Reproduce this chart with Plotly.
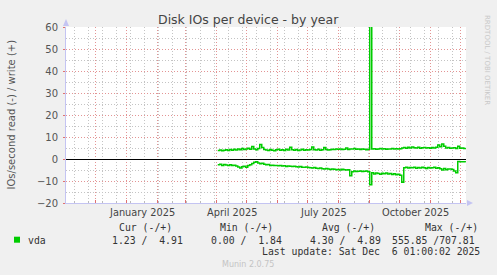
import pandas as pd
import plotly.graph_objects as go

# ---------------- data ----------------
title = "Disk IOs per device - by year"
y_title = "IOs/second read (-) / write (+)"
device = "vda"

write_vals = [3.9, 4.1, 3.7, 4.0, 4.2, 3.9, 4.3, 4.0, 4.4, 4.1, 4.6, 4.2, 4.8, 4.3, 4.5, 4.9, 4.4,
              5.7, 4.6, 4.2,
              4.8, 6.6, 5.2, 4.3,
              4.1, 3.9, 4.3, 4.0, 3.7, 4.2, 4.4, 4.0, 4.2, 3.9, 4.4, 4.1, 5.3,
              4.2, 4.0, 4.3, 3.9, 4.1, 4.4, 4.0, 4.2, 4.1, 4.3,
              5.4, 4.2, 4.1, 4.4, 4.0, 4.2, 5.2, 4.3, 4.1, 4.2, 4.4, 4.3, 4.5,
              4.4, 4.6, 4.3, 4.4, 5.0, 4.3, 4.6, 4.5, 4.8, 4.4, 4.6, 4.3, 4.5, 4.4, 4.2, 4.4,
              707.8,
              4.5, 4.7, 4.4, 4.6, 4.8, 4.5, 4.7, 4.4, 4.6, 4.5, 4.8, 4.6, 4.7, 4.5, 4.7,
              5.0, 5.2, 4.9, 5.3, 5.0, 5.4, 5.1, 5.0, 5.3, 4.9, 5.1, 5.2, 5.0, 5.1, 4.9, 5.2, 5.0, 5.3,
              6.4, 5.6, 6.8, 5.8, 5.0,
              5.2, 4.9, 5.0, 5.1, 4.8, 5.8, 4.9, 5.0, 4.8, 4.91]

read_vals = [-2.6, -2.4, -2.9, -2.5, -2.7, -2.9, -2.6, -3.0, -2.8, -3.2, -3.6, -4.1, -3.5, -3.3, -3.8, -3.0, -2.6,
             -2.0, -1.5, -1.3, -1.8, -2.2, -1.9, -2.4,
             -2.6, -2.5, -2.9, -2.8, -3.0, -2.9, -3.1, -3.0, -3.2, -3.1, -3.4, -3.2, -3.3,
             -3.4, -3.3, -3.5, -3.6, -3.4, -3.7, -3.8, -3.6, -3.9, -4.0,
             -4.1, -3.9, -4.2, -4.3, -4.1, -4.4, -4.5, -4.3, -4.6, -4.8, -4.5, -4.7, -4.9,
             -4.8, -5.0, -4.7, -4.9, -5.0, -4.9, -7.6, -5.8, -5.5, -5.7, -5.6, -5.4, -5.7, -5.6, -5.5, -5.8,
             -11.7,
             -6.3, -6.8, -6.4, -6.6, -6.9, -6.5, -6.7, -6.4, -6.8, -6.6, -7.0, -6.7, -7.2, -6.9, -7.4,
             -10.6,
             -4.0, -3.8, -4.1, -3.9, -4.0, -3.7, -4.2, -3.9, -4.1, -3.8, -4.0, -4.3, -3.9, -4.1, -4.0, -3.8,
             -4.2, -4.0, -4.4, -5.0, -4.3, -4.9, -4.5,
             -4.6, -4.8, -5.5, -6.2,
             -1.1, -1.2, -1.2, -1.2, -1.23]

dates = pd.date_range("2025-04-02", periods=len(write_vals), freq="2D")

x_range = ["2024-11-01 06:00", "2025-12-06 06:00"]
y_range = [-20, 60]

month_labels = ["January 2025", "April 2025", "July 2025", "October 2025"]
month_label_pos = ["2025-01-16 12:00", "2025-04-16", "2025-07-16 12:00", "2025-10-16 12:00"]

stat_headers = ["Cur (-/+)", "Min (-/+)", "Avg (-/+)", "Max (-/+)"]
stat_values = ["1.23 /  4.91", "0.00 /  1.84", "4.30 /  4.89", "555.85 /707.81"]
last_update = "Last update: Sat Dec  6 01:00:02 2025"
footer = "Munin 2.0.75"
side_text = "RRDTOOL / TOBI OETIKER"

# ---------------- layout helpers ----------------
W, H = 497, 275
L, R, T, B = 66, 31, 27, 72
PW, PH = W - L - R, H - T - B


def px(x):
    return (x - L) / PW


def py(y):
    return (H - B - y) / PH


GREEN = "#00CC00"
RED_GRID = "#E39494"
GRAY_GRID = "#C4C4C4"
AXIS = "#C4C4F2"
TXT = "#333333"
MONO = "DejaVu Sans Mono"
SANS = "DejaVu Sans"

fig = go.Figure()
fig.add_trace(go.Scatter(x=dates, y=write_vals, mode="lines", line=dict(color=GREEN, width=1.5, shape="hv"),
                         showlegend=False, hoverinfo="skip"))
fig.add_trace(go.Scatter(x=dates, y=read_vals, mode="lines", line=dict(color=GREEN, width=1.5, shape="hv"),
                         showlegend=False, hoverinfo="skip"))

fig.update_layout(
    width=W, height=H,
    margin=dict(l=L, r=R, t=T, b=B, pad=0),
    paper_bgcolor="#F0F0F0", plot_bgcolor="#FFFFFF",
    font=dict(family=SANS, size=10, color="#555555"),
    showlegend=False,
    xaxis=dict(type="date", range=x_range, dtick="M1", tick0="2024-11-01",
               showgrid=True, gridcolor=RED_GRID, griddash="1px,2px", gridwidth=1,
               ticks="inside", ticklen=3, tickcolor="#E07070", showticklabels=False,
               showline=True, linecolor=AXIS, linewidth=1, zeroline=False,
               minor=dict(dtick=14 * 86400000, tick0="2024-11-10", showgrid=True, gridcolor=GRAY_GRID,
                          griddash="1px,2px", ticks="inside", ticklen=2, tickcolor="#BBBBBB")),
    yaxis=dict(range=y_range, dtick=10, tick0=0, showgrid=True, gridcolor=RED_GRID, griddash="1px,2px",
               ticks="outside", ticklen=2, tickcolor="#E07070",
               tickfont=dict(family=SANS, size=10, color="#555555"), ticklabelstandoff=3,
               showline=True, linecolor=AXIS, linewidth=1,
               zeroline=True, zerolinecolor="#000000", zerolinewidth=1,
               minor=dict(dtick=5, showgrid=True, gridcolor=GRAY_GRID, griddash="1px,2px")),
)

# axis arrows
fig.add_shape(type="path", xref="paper", yref="paper", layer="above",
              path=f"M {px(473)} {py(203)} L {px(467)} {py(200)} L {px(467)} {py(206)} Z",
              fillcolor=AXIS, line=dict(color=AXIS, width=0))
fig.add_shape(type="path", xref="paper", yref="paper", layer="above",
              path=f"M {px(66)} {py(19)} L {px(63)} {py(26)} L {px(69)} {py(26)} Z",
              fillcolor=AXIS, line=dict(color=AXIS, width=0))

ann = []
ann.append(dict(text=title, x=px(248), y=py(19), xref="paper", yref="paper", showarrow=False,
                xanchor="center", yanchor="middle", font=dict(family=SANS, size=12.5, color="#444444")))
ann.append(dict(text=y_title, x=px(10.5), y=py(115), xref="paper", yref="paper", showarrow=False,
                textangle=-90, xanchor="center", yanchor="middle",
                font=dict(family=SANS, size=10, color="#555555")))
ann.append(dict(text=side_text, x=px(487), y=py(60), xref="paper", yref="paper", showarrow=False,
                textangle=90, xanchor="center", yanchor="middle",
                font=dict(family=SANS, size=7, color="#C8C8C8")))
for lab, pos in zip(month_labels, month_label_pos):
    ann.append(dict(text=lab, x=pos, y=py(212.5), xref="x", yref="paper", showarrow=False,
                    xanchor="center", yanchor="middle", font=dict(family=SANS, size=9.8, color="#444444")))

header_left = [116.7, 218.3, 320, 422.7]
for h, xl in zip(stat_headers, header_left):
    ann.append(dict(text=h, x=px(xl), y=py(227.3), xref="paper", yref="paper", showarrow=False,
                    xanchor="left", yanchor="middle", font=dict(family=MONO, size=9.8, color=TXT)))
value_left = [110.3, 209.3, 308.3]
for v, xl in zip(stat_values[:3], value_left):
    ann.append(dict(text=v.replace(" ", "&nbsp;"), x=px(xl), y=py(240), xref="paper", yref="paper",
                    showarrow=False, xanchor="left", yanchor="middle",
                    font=dict(family=MONO, size=9.8, color=TXT)))
ann.append(dict(text=stat_values[3].replace(" ", "&nbsp;"), x=px(476.7), y=py(240), xref="paper", yref="paper",
                showarrow=False, xanchor="right", yanchor="middle", font=dict(family=MONO, size=9.8, color=TXT)))
ann.append(dict(text=device, x=px(26), y=py(240), xref="paper", yref="paper", showarrow=False,
                xanchor="left", yanchor="middle", font=dict(family=MONO, size=9.8, color=TXT)))
ann.append(dict(text=last_update.replace(" ", "&nbsp;"), x=px(482.3), y=py(251.7), xref="paper", yref="paper",
                showarrow=False, xanchor="right", yanchor="middle", font=dict(family=MONO, size=9.8, color=TXT)))
ann.append(dict(text=footer, x=px(247.7), y=py(264), xref="paper", yref="paper", showarrow=False,
                xanchor="center", yanchor="middle", font=dict(family=SANS, size=8, color="#C4C4C4")))
fig.update_layout(annotations=ann)

# legend colour box
fig.add_shape(type="rect", xref="paper", yref="paper", x0=px(14), x1=px(20), y0=py(242.7), y1=py(236.7),
              fillcolor=GREEN, line=dict(width=0))

fig.write_html("out.html")
